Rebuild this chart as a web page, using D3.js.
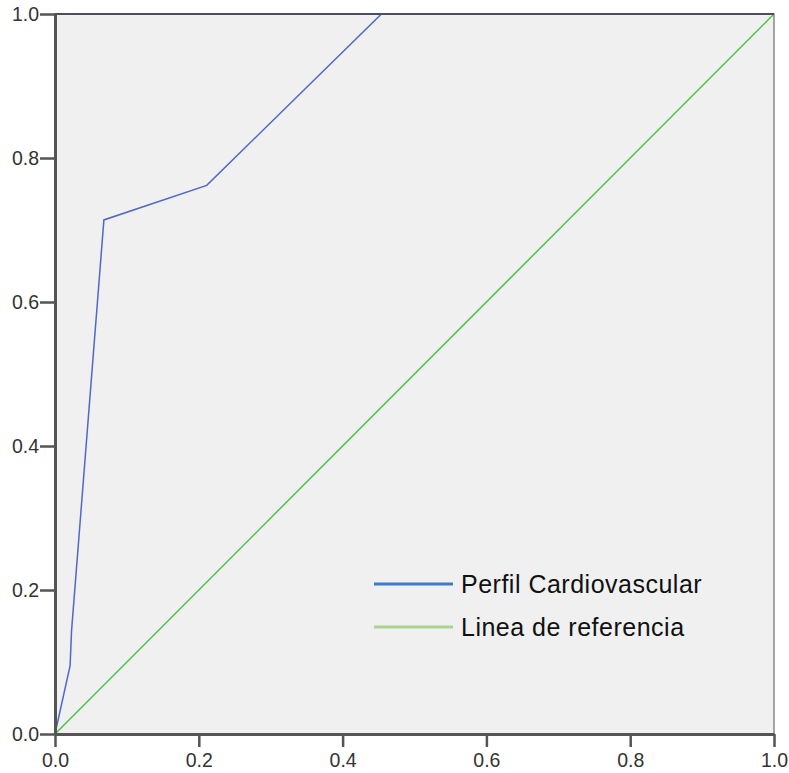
<!DOCTYPE html>
<meta charset="utf-8">
<html>
<head>
<style>
  body { margin: 0; background: #fff; }
  .tick text { font-family: Arial, "Liberation Sans", sans-serif; font-size: 19.5px; fill: #333; }
</style>
<script src="https://d3js.org/d3.v7.min.js"></script>
</head>
<body>
<svg width="789" height="773"></svg>
<script>
// ROC curve values
var fpr = [0, 0.021, 0.023, 0.068, 0.211, 0.454, 1.0];
var tpr = [0, 0.095, 0.143, 0.714, 0.762, 1.0, 1.0];
var refLine = [0, 1];
var tickVals = [0, 0.2, 0.4, 0.6, 0.8, 1.0];
var legendLabels = ["Perfil Cardiovascular", "Linea de referencia"];

var svg = d3.select("svg"),
    margin = {top: 14, right: 15, bottom: 39, left: 55},
    width = +svg.attr("width") - margin.left - margin.right,
    height = +svg.attr("height") - margin.top - margin.bottom;

var g = svg.append("g").attr("transform", "translate(" + margin.left + "," + margin.top + ")");

var x = d3.scaleLinear().domain([0, 1]).range([0, width]),
    y = d3.scaleLinear().domain([0, 1]).range([height, 0]);

g.append("rect")
  .attr("width", width)
  .attr("height", height)
  .attr("fill", "#f0f0f0")
  .attr("stroke", "#888")
  .attr("stroke-width", 1.5);

var line = d3.line()
  .x(function(d) { return x(d[0]); })
  .y(function(d) { return y(d[1]); });

// reference diagonal
g.append("path")
  .datum(refLine.map(function(v) { return [v, v]; }))
  .attr("d", line)
  .attr("fill", "none")
  .attr("stroke", "#4cc24c")
  .attr("stroke-width", 1.5);

// roc curve
g.append("path")
  .datum(fpr.map(function(v, i) { return [v, tpr[i]]; }))
  .attr("d", line)
  .attr("fill", "none")
  .attr("stroke", "#5068c8")
  .attr("stroke-width", 1.5);

// top border over the curve, dark like the reference
g.append("line")
  .attr("x1", x(0)).attr("x2", x(1))
  .attr("y1", y(1)).attr("y2", y(1))
  .attr("stroke", "#4a5060")
  .attr("stroke-width", 2);

var fmt = d3.format(".1f");

var xAxis = g.append("g")
  .attr("transform", "translate(0," + height + ")")
  .call(d3.axisBottom(x).tickValues(tickVals).tickFormat(fmt).tickSize(13).tickPadding(6).tickSizeOuter(0));

var yAxis = g.append("g")
  .call(d3.axisLeft(y).tickValues(tickVals).tickFormat(fmt).tickSize(15).tickPadding(1).tickSizeOuter(0));

[xAxis, yAxis].forEach(function(a) {
  a.select(".domain").attr("stroke", "#555").attr("stroke-width", 3);
  a.selectAll(".tick line").attr("stroke", "#555").attr("stroke-width", 2.5);
});

// legend
var legendColors = ["#3a7cc8", "#a8d490"];
var legend = g.append("g").attr("transform", "translate(" + (374 - margin.left) + "," + (584 - margin.top) + ")");
legendLabels.forEach(function(lbl, i) {
  var row = legend.append("g").attr("transform", "translate(0," + (i * 43) + ")");
  row.append("line")
    .attr("x1", 0).attr("x2", 79)
    .attr("stroke", legendColors[i])
    .attr("stroke-width", 3);
  row.append("text")
    .attr("x", 87)
    .attr("dy", "0.35em")
    .attr("font-family", "Arial, 'Liberation Sans', sans-serif")
    .attr("font-size", "25px")
    .attr("letter-spacing", "0.5px")
    .attr("fill", "#111")
    .text(lbl);
});
</script>
</body>
</html>
